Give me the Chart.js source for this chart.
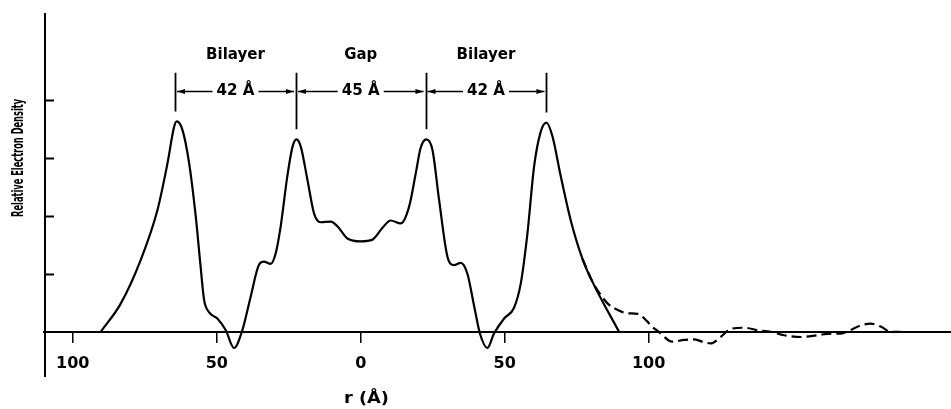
<!DOCTYPE html>
<html>
<head>
<meta charset="utf-8">
<title>Relative Electron Density</title>
<script src="https://cdn.jsdelivr.net/npm/chart.js@4/dist/chart.umd.min.js"></script>
<style>
  html, body { margin: 0; padding: 0; background: #fff; }
  #wrap { width: 951px; height: 409px; }
</style>
</head>
<body>
<div id="wrap"><canvas id="profile" width="951" height="409"></canvas></div>
<script>
// electron density profile, r in Å (solid trace)
const densityR = [-90.3, -83.3, -76.4, -70.6, -67.1, -64.8, -63.9, -61.9, -59.6, -57.3,
  -55.6, -54.4, -52.7, -49.8, -46.9, -44.0, -41.1, -38.2, -35.3, -33.6,
  -31.3, -29.5, -27.8, -25.5, -23.7, -22.3, -20.8, -18.5, -16.2, -13.9,
  -10.4, -8.1, -4.6, 0, 4.1, 7.5, 10.4, 13.9, 16.8, 19.1,
  20.8, 22.8, 24.9, 27.2, 30.1, 32.4, 34.7, 37.0, 39.4, 41.4,
  44.0, 46.3, 49.8, 53.2, 55.6, 57.9, 60.2, 62.5, 64.5, 66.6,
  69.4, 72.9, 77.0, 80.4, 89.7];
const densityVal = [0, 0.49, 1.24, 2.10, 2.91, 3.54, 3.63, 3.48, 2.91, 1.99,
  1.12, 0.55, 0.34, 0.23, 0.03, -0.28, 0.03, 0.61, 1.16, 1.21,
  1.17, 1.36, 1.82, 2.68, 3.19, 3.32, 3.19, 2.62, 2.04, 1.89,
  1.90, 1.82, 1.61, 1.56, 1.59, 1.79, 1.92, 1.87, 2.16, 2.73,
  3.17, 3.32, 3.14, 2.28, 1.30, 1.15, 1.19, 1.01, 0.44, -0.03,
  -0.28, -0.03, 0.23, 0.41, 0.84, 1.70, 2.85, 3.45, 3.61, 3.37,
  2.70, 1.93, 1.26, 0.87, 0];

// outer tail (dashed trace)
const tailR = [77.0, 80.4, 82.2, 85.7, 89.1, 92.6, 96.1, 99.5, 100.7, 103.5,
  108.2, 112.3, 115.7, 118.6, 121.5, 125, 128.5, 133.1, 137.7, 142.4,
  147, 152.8, 158.6, 163.2, 166.7, 170.1, 173.6, 177.1, 180.6, 184, 187.5];
const tailVal = [1.26, 0.87, 0.72, 0.49, 0.38, 0.32, 0.31, 0.18, 0.11, 0,
  -0.17, -0.14, -0.13, -0.17, -0.20, -0.09, 0.05, 0.07, 0.03, 0,
  -0.06, -0.09, -0.06, -0.03, -0.03, 0.03, 0.11, 0.14, 0.09, 0, 0];

const xTickValues = [-100, -50, 0, 50, 100];
const yTickValues = [1, 2, 3, 4];

// dimension markers between the peaks
const dimEdges = [-64.5, -22.5, 22.5, 64.5];
const dimLabels = ['42 Å', '45 Å', '42 Å'];
const regionNames = ['Bilayer', 'Gap', 'Bilayer'];

const ink = '#000';
const FONT = '"DejaVu Sans", "Liberation Sans", sans-serif';

function toPoints(xs, ys) {
  return xs.map((r, i) => ({ x: r, y: ys[i] }));
}

// draws text squeezed or stretched to a given width
function fitText(ctx, text, cx, cy, width, font, angle) {
  ctx.save();
  ctx.font = font;
  const w = ctx.measureText(text).width;
  ctx.translate(cx, cy);
  if (angle) ctx.rotate(angle);
  ctx.scale(width / w, 1);
  ctx.textAlign = 'center';
  ctx.textBaseline = 'middle';
  ctx.fillStyle = ink;
  ctx.fillText(text, 0, 0);
  ctx.restore();
}

function arrowHead(ctx, tipX, py, dir) {
  ctx.beginPath();
  ctx.moveTo(tipX, py);
  ctx.lineTo(tipX - dir * 8, py - 2.6);
  ctx.lineTo(tipX - dir * 8, py + 2.6);
  ctx.closePath();
  ctx.fill();
}

function peakNear(r) {
  let best = -Infinity;
  densityR.forEach((v, i) => { if (Math.abs(v - r) < 2.5) best = Math.max(best, densityVal[i]); });
  return best;
}

const overlay = {
  id: 'profileOverlay',
  afterDraw(chart) {
    const { ctx, chartArea, scales: { x, y } } = chart;
    ctx.save();
    ctx.strokeStyle = ink;
    ctx.fillStyle = ink;

    // vertical axis with inward ticks
    ctx.lineWidth = 2;
    ctx.beginPath();
    ctx.moveTo(chartArea.left + 1, chartArea.top);
    ctx.lineTo(chartArea.left + 1, chartArea.bottom);
    yTickValues.forEach(v => {
      const py = Math.round(y.getPixelForValue(v)) + 0.5;
      ctx.moveTo(chartArea.left, py);
      ctx.lineTo(chartArea.left + 10, py);
    });
    ctx.stroke();

    // extension lines down to each peak
    const extTop = y.getPixelForValue(4.47);
    ctx.lineWidth = 1.8;
    ctx.beginPath();
    dimEdges.forEach(r => {
      const px = Math.round(x.getPixelForValue(r)) + 0.5;
      ctx.moveTo(px, extTop);
      ctx.lineTo(px, y.getPixelForValue(peakNear(r)) - 10);
    });
    ctx.stroke();

    // dimension lines, labels and region names
    const arrowY = Math.round(y.getPixelForValue(4.155)) + 0.5;
    const nameY = y.getPixelForValue(4.78);
    ctx.lineWidth = 1.5;
    dimLabels.forEach((label, i) => {
      const xa = x.getPixelForValue(dimEdges[i]) + 2;
      const xb = x.getPixelForValue(dimEdges[i + 1]) - 2;
      const cx = (xa + xb) / 2;
      const half = 19 + 4;
      ctx.beginPath();
      ctx.moveTo(xa, arrowY); ctx.lineTo(cx - half, arrowY);
      ctx.moveTo(cx + half, arrowY); ctx.lineTo(xb, arrowY);
      ctx.stroke();
      arrowHead(ctx, xa, arrowY, -1);
      arrowHead(ctx, xb, arrowY, 1);
      fitText(ctx, label, cx, arrowY - 1, 38, 'bold 16px ' + FONT);
      const nameWidth = regionNames[i] === 'Gap' ? 33 : 59;
      fitText(ctx, regionNames[i], cx, nameY, nameWidth, 'bold 15px ' + FONT);
    });

    // axis titles
    fitText(ctx, 'r (Å)', x.getPixelForValue(2), chartArea.bottom + 22, 45, 'bold 16px ' + FONT);
    fitText(ctx, 'Relative Electron Density', 19, y.getPixelForValue(3), 118, 'bold 16px ' + FONT, -Math.PI / 2);
    ctx.restore();
  }
};

new Chart(document.getElementById('profile'), {
  type: 'line',
  data: {
    datasets: [{
      label: 'density',
      data: toPoints(densityR, densityVal),
      borderColor: ink,
      borderWidth: 2.2,
      pointRadius: 0,
      cubicInterpolationMode: 'monotone',
      fill: false
    }, {
      label: 'tail',
      data: toPoints(tailR, tailVal),
      borderColor: ink,
      borderWidth: 2.2,
      borderDash: [10, 5],
      pointRadius: 0,
      cubicInterpolationMode: 'monotone',
      fill: false
    }]
  },
  options: {
    responsive: false,
    animation: false,
    events: [],
    layout: { padding: { left: 44, top: 13, right: 0, bottom: 32 } },
    plugins: { legend: { display: false }, tooltip: { enabled: false } },
    scales: {
      x: {
        type: 'linear',
        min: -110,
        max: 205,
        position: { y: 0 },
        afterBuildTicks: axis => { axis.ticks = xTickValues.map(v => ({ value: v })); },
        border: { color: ink, width: 2 },
        grid: { drawOnChartArea: false, drawTicks: true, tickLength: 10, color: ink, lineWidth: 1.5 },
        ticks: {
          color: ink,
          padding: 12,
          maxRotation: 0,
          font: { family: FONT, size: 16, weight: 'bold' },
          callback: v => String(Math.abs(v))
        }
      },
      y: {
        type: 'linear',
        display: false,
        min: -0.78,
        max: 5.5
      }
    }
  },
  plugins: [overlay]
});
</script>
</body>
</html>
